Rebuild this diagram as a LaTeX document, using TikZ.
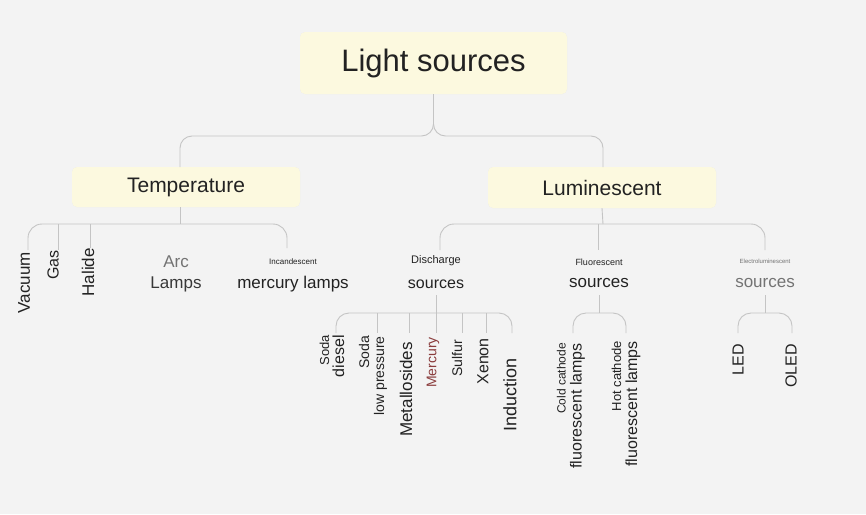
\documentclass[tikz,border=0pt]{standalone}
\usepackage{fontspec}
\setmainfont{Liberation Sans}
\usetikzlibrary{shadows}
\definecolor{bg}{HTML}{F3F3F3}
\definecolor{boxc}{HTML}{FCF9DF}
\definecolor{ln}{HTML}{C4C4C4}
\definecolor{tx}{HTML}{222222}
\definecolor{merc}{HTML}{8A3C3C}
\newcommand{\fs}[1]{\fontsize{#1}{\dimexpr #1pt*12/10\relax}\selectfont}
\begin{document}
\begin{tikzpicture}[x=1pt,y=-1pt,
  box/.style={fill=boxc,rounded corners=5pt,inner sep=0pt,text=tx,drop shadow={shadow xshift=0pt,shadow yshift=0pt,opacity=0.15,fill=black!40}},
  conn/.style={draw=ln,line width=0.9pt,rounded corners=12pt},
  vt/.style={rotate=90,anchor=east,text=tx,inner sep=0pt,align=right},
  t/.style={text=tx,inner sep=0pt}]
\fill[bg] (0,0) rectangle (866,514);
\useasboundingbox (0,0) rectangle (866,514);
\node[box,minimum width=267pt,minimum height=62pt] (root) at (433.5,63) {\fs{31}Light sources};
\node[box,minimum width=228pt,minimum height=40pt] (temp) at (186,187) {\fs{21}Temperature};
\node[box,minimum width=228pt,minimum height=41pt] (lum) at (602,187.5) {\fs{21}Luminescent};
\draw[conn] (root.south) |- (180,136) -- (180,167);
\draw[conn] (root.south) |- (603,136) -- (603,167);
% temperature
\draw[conn,rounded corners=14pt] (28,250) |- (287,224) -- (287,248);
\draw[conn] (180,207) -- (180,224);
\draw[conn] (58,224) -- (58,250);
\draw[conn] (90,224) -- (90,248);
\node[vt] (vac) at (24,252) {\fs{17}Vacuum};
\node[vt] (gas) at (53,250) {\fs{16}Gas};
\node[vt] (hal) at (88,248) {\fs{17}Halide};
\node[t,text=black!55] (arc) at (176,262) {\fs{17}Arc};
\node[t,text=tx!90] (lamps) at (176,284) {\fs{17}Lamps};
\node[t] (inc) at (293,262) {\fs{8}Incandescent};
\node[t] (mer) at (293,284) {\fs{17}mercury lamps};
% luminescent
\draw[conn] (lum.south) -- (603,224);
\draw[conn,rounded corners=14pt] (440,250) |- (765,224) -- (765,250);
\draw[conn] (598,224) -- (598,250);
\node[t] (dis) at (436,261) {\fs{11}Discharge};
\node[t] (dsrc) at (436,284) {\fs{16}sources};
\node[t] (flu) at (599,262) {\fs{9}Fluorescent};
\node[t] (fsrc) at (599,283) {\fs{17}sources};
\node[t,text=black!55] (ele) at (765,261) {\fs{6}Electroluminescent};
\node[t,text=black!55] (esrc) at (765,283) {\fs{17}sources};
% discharge
\draw[conn] (436,295) -- (436,313);
\draw[conn,rounded corners=13pt] (336,333) |- (512,313) -- (512,333);
\foreach \x in {377,409,436,462,486} \draw[conn] (\x,313) -- (\x,333);
\node[vt] (sd) at (332,335) {\fs{13}Soda\\[3pt]\fs{16}diesel};
\node[vt] (sl) at (373,336) {\fs{14}Soda\\[3pt]\fs{14}low pressure};
\node[vt] (met) at (406,342) {\fs{17}Metallosides};
\node[vt,text=merc] (mrc) at (433,337) {\fs{14}Mercury};
\node[vt] (sul) at (457,340) {\fs{14}Sulfur};
\node[vt] (xen) at (483,338) {\fs{16}Xenon};
\node[vt] (ind) at (510,358) {\fs{18}Induction};
% fluorescent
\draw[conn] (599,295) -- (599,313);
\draw[conn,rounded corners=13pt] (573,333) |- (626,313) -- (626,333);
\node[vt] (cc) at (571,343) {\fs{12}Cold cathode\\[4pt]\fs{16}fluorescent lamps};
\node[vt] (hc) at (626,341) {\fs{13}Hot cathode\\[4pt]\fs{16}fluorescent lamps};
% electro
\draw[conn] (765,295) -- (765,313);
\draw[conn,rounded corners=13pt] (738,333) |- (792,313) -- (792,333);
\node[vt] (led) at (738,344) {\fs{16}LED};
\node[vt] (oled) at (791,344) {\fs{16}OLED};
\end{tikzpicture}
\end{document}
